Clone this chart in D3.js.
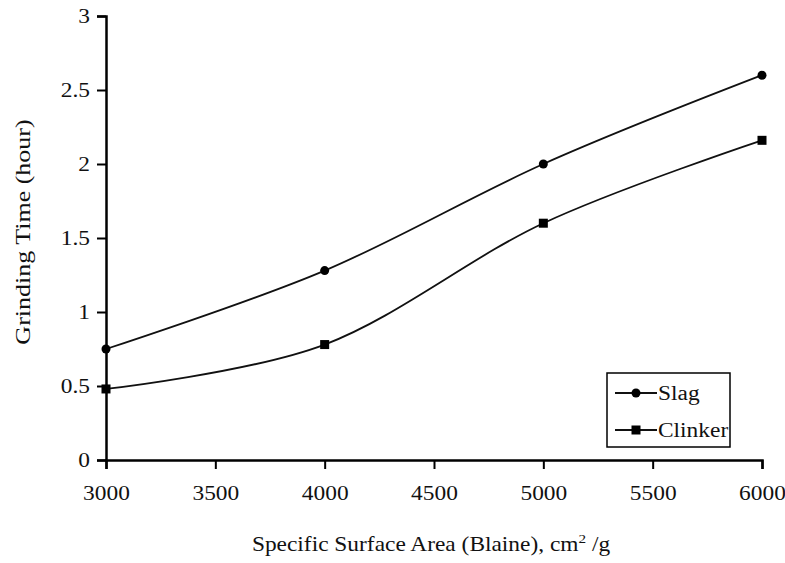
<!DOCTYPE html>
<html>
<head>
<meta charset="utf-8">
<script src="https://cdn.jsdelivr.net/npm/d3@7"></script>
<style>
  body { margin: 0; background: #fff; }
  text { font-family: "Liberation Serif", "Times New Roman", serif; fill: #111; }
</style>
</head>
<body>
<svg width="785" height="563"></svg>
<script>
const blaine = [3000, 4000, 5000, 6000];
const slag = [0.75, 1.28, 2.0, 2.6];
const clinker = [0.48, 0.78, 1.6, 2.16];
const xTicks = [3000, 3500, 4000, 4500, 5000, 5500, 6000];
const yTicks = [0, 0.5, 1, 1.5, 2, 2.5, 3];

const STRETCH = 1.17; // the scanned text is a bit wider than the font

const svg = d3.select("svg");
const x = d3.scaleLinear().domain([3000, 6000]).range([106, 762]);
const y = d3.scaleLinear().domain([0, 3]).range([460, 16]);

function widen(sel) {
  sel.each(function () {
    const len = this.getComputedTextLength();
    d3.select(this)
      .attr("textLength", len * STRETCH)
      .attr("lengthAdjust", "spacingAndGlyphs");
  });
}

// axes
const yAxis = svg.append("g")
  .attr("transform", `translate(${x(3000)},0)`)
  .call(d3.axisLeft(y).tickValues(yTicks).tickSize(9).tickPadding(7).tickFormat(d3.format("")));
const xAxis = svg.append("g")
  .attr("transform", `translate(0,${y(0)})`)
  .call(d3.axisBottom(x).tickValues(xTicks).tickSize(9).tickPadding(17).tickFormat(d3.format("")));

[yAxis, xAxis].forEach((g) => {
  g.select(".domain").attr("stroke", "#000").attr("stroke-width", 2.5);
  g.selectAll(".tick line").attr("stroke", "#000").attr("stroke-width", 2);
  g.selectAll("text")
    .attr("font-size", 20)
    .attr("font-family", "Liberation Serif")
    .attr("fill", "#111")
    .call(widen);
});

// series lines
const line = d3.line()
  .x((d) => x(d[0]))
  .y((d) => y(d[1]))
  .curve(d3.curveCatmullRom.alpha(0));

const series = [
  { name: "Slag", values: slag, shape: "circle" },
  { name: "Clinker", values: clinker, shape: "square" },
];

series.forEach((s) => {
  const pts = blaine.map((b, i) => [b, s.values[i]]);
  svg.append("path")
    .attr("d", line(pts))
    .attr("fill", "none")
    .attr("stroke", "#111")
    .attr("stroke-width", 1.8);
  drawMarker(svg, pts.map((p) => [x(p[0]), y(p[1])]), s.shape);
});

function drawMarker(g, coords, shape) {
  if (shape === "circle") {
    g.selectAll(null).data(coords).join("circle")
      .attr("cx", (d) => d[0]).attr("cy", (d) => d[1])
      .attr("r", 4.5).attr("fill", "#000");
  } else {
    g.selectAll(null).data(coords).join("rect")
      .attr("x", (d) => d[0] - 4.5).attr("y", (d) => d[1] - 4.5)
      .attr("width", 9).attr("height", 9).attr("fill", "#000");
  }
}

// legend
const legend = svg.append("g").attr("transform", "translate(607,373)");
legend.append("rect")
  .attr("width", 123).attr("height", 74)
  .attr("fill", "#fff").attr("stroke", "#000").attr("stroke-width", 1.5);
series.forEach((s, i) => {
  const cy = 20 + i * 37;
  legend.append("line")
    .attr("x1", 8).attr("x2", 50).attr("y1", cy).attr("y2", cy)
    .attr("stroke", "#111").attr("stroke-width", 1.8);
  drawMarker(legend, [[29, cy]], s.shape);
  legend.append("text")
    .attr("x", 51).attr("y", cy + 7)
    .attr("font-size", 20)
    .text(s.name)
    .call(widen);
});

// axis titles
svg.append("text")
  .attr("transform", `translate(431,551) scale(${STRETCH},1)`)
  .attr("text-anchor", "middle")
  .attr("font-size", 20)
  .html('Specific Surface Area (Blaine), cm<tspan dy="-8" font-size="13">2</tspan><tspan dy="8"> /g</tspan>');

svg.append("text")
  .attr("transform", "translate(30,232) rotate(-90) scale(1.3,1)")
  .attr("text-anchor", "middle")
  .attr("font-size", 20)
  .text("Grinding Time (hour)");
</script>
</body>
</html>
